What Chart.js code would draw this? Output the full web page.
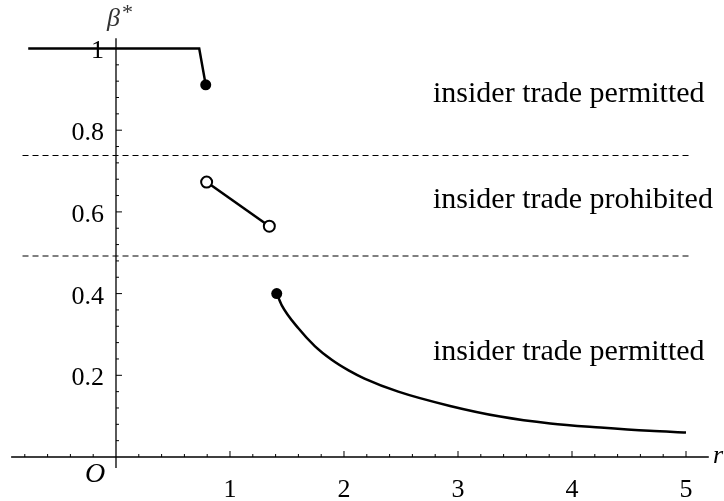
<!DOCTYPE html>
<html>
<head>
<meta charset="utf-8">
<script src="https://cdn.jsdelivr.net/npm/chart.js@4/dist/chart.umd.min.js"></script>
<style>
  html, body { margin: 0; padding: 0; background: #fff; }
  #wrap { width: 724px; height: 501px; }
</style>
</head>
<body>
<div id="wrap"><canvas id="chart"></canvas></div>
<script>
// ---- Data ----
const flatX = [-0.77, 0.73, 0.787];
const flatY = [1, 1, 0.911];
const prohibX = [0.795, 1.345];
const prohibY = [0.673, 0.565];
const curveX = [1.41, 1.453, 1.60, 1.746, 1.892, 2.04, 2.18, 2.476, 2.93, 3.37, 3.81, 4.25, 4.68, 5.0];
const curveY = [0.40, 0.372, 0.315, 0.271, 0.238, 0.212, 0.192, 0.160, 0.125, 0.099, 0.082, 0.072, 0.064, 0.060];
const thresholds = [0.738, 0.492];
const thresholdSpan = [-0.82, 5.03];
const xTicks = [1, 2, 3, 4, 5];
const yTicks = [0.2, 0.4, 0.6, 0.8, 1];
const yTickLabels = ["0.2", "0.4", "0.6", "0.8", "1"];
const regionLabels = ["insider trade permitted", "insider trade prohibited", "insider trade permitted"];
const regionLabelY = [0.869, 0.61, 0.237];

const pts = (xs, ys) => xs.map((x, i) => ({ x, y: ys[i] }));
const SERIF = '"Liberation Serif", "DejaVu Serif", serif';

// axes through the origin, ticks inside, drawn from the chart's scales
const axesPlugin = {
  id: "axes",
  afterDatasetsDraw(chart) {
    const { ctx, scales: { x, y } } = chart;
    const X = (v) => x.getPixelForValue(v);
    const Y = (v) => y.getPixelForValue(v);
    ctx.save();
    ctx.strokeStyle = "#000";
    ctx.fillStyle = "#000";
    ctx.lineWidth = 1.3;
    ctx.beginPath();
    ctx.moveTo(X(-0.92), Y(0)); ctx.lineTo(X(5.2), Y(0));
    ctx.moveTo(X(0), Y(1.025)); ctx.lineTo(X(0), Y(-0.027));
    ctx.stroke();

    ctx.lineWidth = 1;
    ctx.beginPath();
    for (let i = -4; i <= 25; i++) {
      const v = i / 5;
      if (v === 0) continue;
      const len = i % 5 === 0 ? 6 : 3;
      ctx.moveTo(X(v), Y(0)); ctx.lineTo(X(v), Y(0) - len);
    }
    for (let i = 1; i <= 25; i++) {
      const v = i * 0.04;
      const len = i % 5 === 0 ? 6 : 3;
      ctx.moveTo(X(0), Y(v)); ctx.lineTo(X(0) + len, Y(v));
    }
    ctx.stroke();

    ctx.textBaseline = "alphabetic";
    ctx.font = "26px " + SERIF;
    ctx.textAlign = "center";
    xTicks.forEach((v) => ctx.fillText(String(v), X(v), Y(0) + 40));
    ctx.textAlign = "right";
    yTicks.forEach((v, i) => ctx.fillText(yTickLabels[i], X(0) - 12, Y(v) + 10));

    ctx.font = "italic 28px " + SERIF;
    ctx.textAlign = "center";
    ctx.fillText("O", X(0) - 21, Y(0) + 25);
    ctx.textAlign = "left";
    ctx.font = "italic 26px " + SERIF;
    ctx.fillText("r", X(5.22) + 2, Y(0) + 6);
    ctx.fillStyle = "#333";
    ctx.fillText("\u03b2", X(0) - 9, 26);
    ctx.font = "22px " + SERIF;
    ctx.fillText("*", X(0) + 6, 19);

    ctx.fillStyle = "#000";
    ctx.font = "30px " + SERIF;
    ctx.textAlign = "left";
    regionLabels.forEach((t, i) => ctx.fillText(t, 433, Y(regionLabelY[i])));
    ctx.restore();
  },
};

const solid = { borderColor: "#000", borderWidth: 2.5, pointRadius: 0, fill: false };

new Chart(document.getElementById("chart"), {
  type: "scatter",
  data: {
    datasets: [
      ...thresholds.map((t) => ({
        data: pts(thresholdSpan, [t, t]),
        showLine: true, borderColor: "#000", borderWidth: 1.1, borderDash: [6, 4], pointRadius: 0,
      })),
      {
        ...solid, data: pts(flatX, flatY), showLine: true,
        pointRadius: flatX.map((_, i) => (i === flatX.length - 1 ? 5.5 : 0)),
        pointBackgroundColor: "#000", pointBorderWidth: 0,
      },
      {
        ...solid, data: pts(prohibX, prohibY), showLine: true,
        pointRadius: 5.5, pointBackgroundColor: "#fff", pointBorderColor: "#000", pointBorderWidth: 2,
      },
      {
        ...solid, data: pts(curveX, curveY), showLine: true, cubicInterpolationMode: "monotone",
        pointRadius: curveX.map((_, i) => (i === 0 ? 5.5 : 0)),
        pointBackgroundColor: "#000", pointBorderWidth: 0,
      },
    ],
  },
  options: {
    responsive: true,
    maintainAspectRatio: false,
    animation: false,
    layout: { padding: 0, autoPadding: false },
    plugins: { legend: { display: false }, tooltip: { enabled: false } },
    scales: {
      x: { type: "linear", display: false, min: -1.0175, max: 5.3333 },
      y: { type: "linear", display: false, min: -0.1077, max: 1.1187 },
    },
  },
  plugins: [axesPlugin],
});
</script>
</body>
</html>
